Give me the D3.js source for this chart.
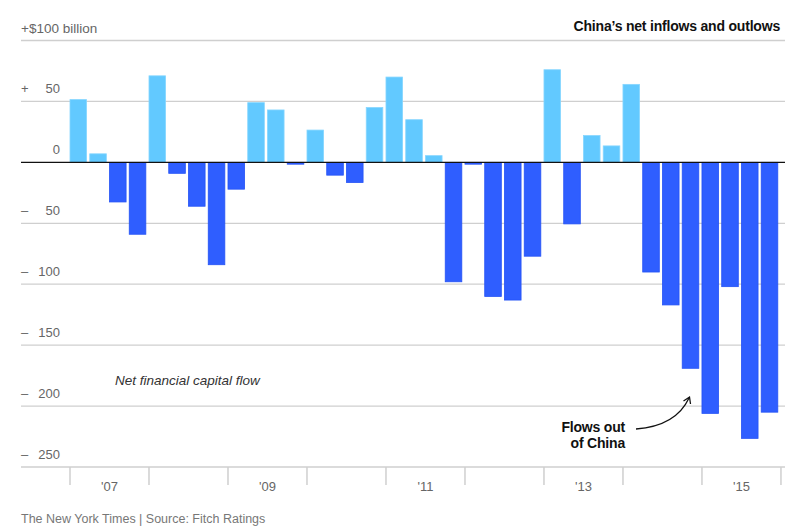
<!DOCTYPE html>
<html>
<head>
<meta charset="utf-8">
<script src="https://cdn.jsdelivr.net/npm/d3@7"></script>
<style>
  html, body { margin: 0; padding: 0; background: #fff; }
  svg { display: block; }
</style>
</head>
<body>
<svg id="chart" width="800" height="532"></svg>
<script>
// ---- data ----
const quarters = d3.range(36).map(i => `${2007 + Math.floor(i / 4)} Q${(i % 4) + 1}`);
const netFlow = [51.5, 7, -32.5, -59, 71, -9, -36, -84, -22, 49, 43, -1.5,
                 26.5, -10.5, -16.5, 45, 70, 35, 5.5, -98, -1.5, -110, -113, -77,
                 76, -50.5, 22, 13.5, 64, -90, -117, -169, -206, -102, -226.5, -205];
const years = [2007, 2008, 2009, 2010, 2011, 2012, 2013, 2014, 2015];
const yearLabels = ["'07", "", "'09", "", "'11", "", "'13", "", "'15"];
const yTicks = [100, 50, 0, -50, -100, -150, -200, -250];
const yTickLabels = ["+$100 billion", "50", "0", "50", "100", "150", "200", "250"];
const yTickSigns = ["", "+", "", "–", "–", "–", "–", "–"];

const svg = d3.select("#chart");
const font = "'Liberation Sans', Arial, sans-serif";

const y = d3.scaleLinear().domain([-250, 100]).range([467, 40.5]);
const x = d3.scaleBand().domain(quarters).range([70, 777.8]).paddingInner(0.16).paddingOuter(0).align(0);
const step = x.step();
const yearX = yr => 70 + (yr - 2007) * 4 * step;

const gridLeft = 21, gridRight = 785;

// gridlines
svg.append("g").selectAll("line").data(yTicks.filter(d => d !== 0)).join("line")
  .attr("x1", gridLeft).attr("x2", gridRight)
  .attr("y1", d => y(d)).attr("y2", d => y(d))
  .attr("stroke", "#cfcfcf").attr("stroke-width", 1.3);

// y tick labels
const yl = svg.append("g").attr("font-family", font).attr("font-size", 13).attr("fill", "#666");
yTicks.forEach((t, i) => {
  if (i === 0) {
    yl.append("text").attr("x", gridLeft).attr("y", y(t) - 8).attr("font-size", 13.5).text(yTickLabels[i]);
  } else {
    yl.append("text").attr("x", 60).attr("y", y(t) - 8).attr("text-anchor", "end").text(yTickLabels[i]);
    if (yTickSigns[i]) yl.append("text").attr("x", gridLeft).attr("y", y(t) - 8).text(yTickSigns[i]);
  }
});

// bars
svg.append("g").selectAll("rect").data(netFlow).join("rect")
  .attr("x", (d, i) => x(quarters[i]))
  .attr("width", x.bandwidth())
  .attr("y", d => y(Math.max(0, d)))
  .attr("height", d => Math.abs(y(d) - y(0)))
  .attr("fill", d => d >= 0 ? "#62c9ff" : "#2f5eff")
  .attr("stroke", d => d >= 0 ? "#86d6ff" : "#2553f5")
  .attr("stroke-width", 0.8);

// zero line
svg.append("line").attr("x1", gridLeft).attr("x2", gridRight)
  .attr("y1", y(0)).attr("y2", y(0)).attr("stroke", "#111").attr("stroke-width", 1.4);

// x year ticks
const xt = svg.append("g");
const tickYears = years.concat([2016]);
xt.selectAll("line").data(tickYears).join("line")
  .attr("x1", d => yearX(d)).attr("x2", d => yearX(d))
  .attr("y1", y(-250)).attr("y2", 485)
  .attr("stroke", "#cfcfcf").attr("stroke-width", 1.5);
xt.selectAll("text").data(years).join("text")
  .attr("x", d => yearX(d) + 2 * step)
  .attr("y", 491)
  .attr("text-anchor", "middle")
  .attr("font-family", font).attr("font-size", 13).attr("fill", "#666")
  .text((d, i) => yearLabels[i]);

// title
svg.append("text").attr("x", 780).attr("y", 31).attr("text-anchor", "end")
  .attr("font-family", font).attr("font-weight", "bold").attr("font-size", 14)
  .attr("letter-spacing", -0.2).attr("fill", "#111")
  .text("China’s net inflows and outlows");

// series label
svg.append("text").attr("x", 115).attr("y", 385)
  .attr("font-family", font).attr("font-style", "italic").attr("font-size", 13.5).attr("fill", "#333")
  .text("Net financial capital flow");

// annotation
const ann = svg.append("g").attr("font-family", font).attr("font-weight", "bold")
  .attr("font-size", 14).attr("letter-spacing", -0.2).attr("fill", "#111").attr("text-anchor", "end");
ann.append("text").attr("x", 625).attr("y", 432).text("Flows out");
ann.append("text").attr("x", 625).attr("y", 448).text("of China");

svg.append("path")
  .attr("d", "M636,429 Q676,426 689,398")
  .attr("fill", "none").attr("stroke", "#111").attr("stroke-width", 1.3);
svg.append("path")
  .attr("d", "M683.5,401 L689.5,397 L690.5,404")
  .attr("fill", "none").attr("stroke", "#111").attr("stroke-width", 1.3);

// footer
svg.append("text").attr("x", 21).attr("y", 523)
  .attr("font-family", font).attr("font-size", 12.5).attr("fill", "#777")
  .text("The New York Times | Source: Fitch Ratings");
</script>
</body>
</html>
